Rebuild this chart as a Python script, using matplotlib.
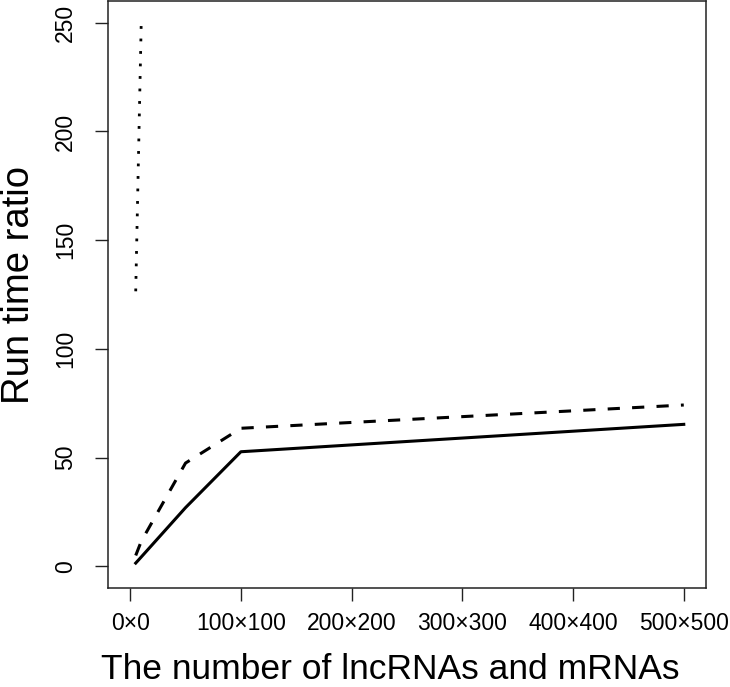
import matplotlib
matplotlib.use('Agg')
import matplotlib.pyplot as plt

# x = number of lncRNAs (= mRNAs)
x_solid = [5, 10, 50, 100, 500]
y_solid = [1.5, 4.3, 27, 52.7, 65.3]

x_dash = [5, 10, 50, 100, 500]
y_dash = [5, 11.5, 47.5, 63.5, 74.2]

x_dot = [5, 10]
y_dot = [126.5, 250.7]

xticks = [0, 100, 200, 300, 400, 500]
xticklabels = ['0×0', '100×100', '200×200', '300×300', '400×400', '500×500']
yticks = [0, 50, 100, 150, 200, 250]

plt.rcParams['font.family'] = ['Liberation Sans', 'DejaVu Sans']

fig = plt.figure(figsize=(7.30, 6.87), dpi=100)
ax = fig.add_axes([0.148, 0.144, 0.819, 0.8545])

ax.plot(x_solid, y_solid, '-', color='black', linewidth=2.2, solid_joinstyle='round')
ax.plot(x_dash, y_dash, color='black', linewidth=2.2, dashes=(4, 4))
ax.plot(x_dot, y_dot, color='black', linewidth=2.0, dashes=(1, 3.5))

ax.set_xlim(-20, 520)
ax.set_ylim(-10, 260)

ax.set_xticks(xticks)
ax.set_xticklabels(xticklabels)
ax.set_yticks(yticks)
ax.set_yticklabels([str(v) for v in yticks], rotation=90, va='center')
ax.tick_params(axis='both', length=9.5, width=1.0, labelsize=16.5, color='#222222')
ax.tick_params(axis='x', pad=8)
ax.tick_params(axis='y', pad=13)

for sp in ax.spines.values():
    sp.set_linewidth(1.1)
    sp.set_color('#222222')

# labels placed by hand (va=top for x, right edge for y)
ax.set_xlabel('The number of lncRNAs and mRNAs', fontsize=25.5)
ax.xaxis.set_label_coords(0.472, -0.11)
ax.set_ylabel('Run time ratio', fontsize=27.5)
ax.yaxis.set_label_coords(-0.118, 0.516)

fig.savefig('out.png', dpi=100)
